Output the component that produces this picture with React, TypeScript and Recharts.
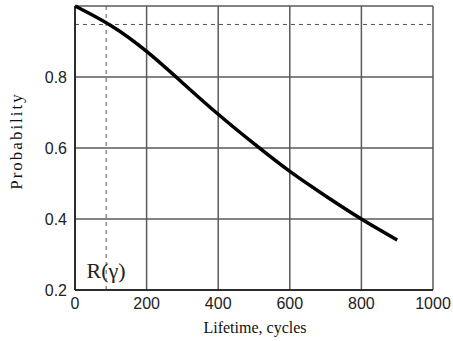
import {
  LineChart,
  Line,
  XAxis,
  YAxis,
  CartesianGrid,
  ReferenceLine,
} from "recharts";

const lifetime = [0, 100, 200, 300, 400, 500, 600, 700, 800, 900];
const probability = [1.0, 0.945, 0.872, 0.784, 0.695, 0.612, 0.534, 0.465, 0.4, 0.341];
const xTicks = [0, 200, 400, 600, 800, 1000];
const yTicks = [0.2, 0.4, 0.6, 0.8, 1.0];
const gammaX = 87;
const gammaR = 0.948;

const data = lifetime.map((t, i) => ({ t, p: probability[i] }));

const tickStyle = {
  fill: "#222",
  fontSize: 16,
  fontFamily: "'Liberation Sans Narrow', 'Liberation Sans', Arial, sans-serif",
};

const serif = "'Liberation Serif', 'Times New Roman', serif";

export default function App() {
  return (
    <div style={{ position: "absolute", left: 0, top: 0, background: "#fff" }}>
      <LineChart
        width={453}
        height={341}
        data={data}
        margin={{ top: 6, right: 20, left: 0, bottom: 0 }}
      >
        <CartesianGrid stroke="#5a5a5a" strokeWidth={1.5} />
        <XAxis
          dataKey="t"
          type="number"
          domain={[0, 1000]}
          ticks={xTicks}
          tick={tickStyle}
          tickLine={false}
          axisLine={{ stroke: "#111", strokeWidth: 1.5 }}
          height={51}
          label={{
            content: () => (
              <text x={255} y={333} textAnchor="middle" fontFamily={serif} fontSize={16} fill="#111">
                Lifetime, cycles
              </text>
            ),
          }}
        />
        <YAxis
          type="number"
          domain={[0.2, 1.0]}
          ticks={yTicks}
          tick={tickStyle}
          tickFormatter={(v: number) => (v >= 1 ? "" : String(v))}
          tickLine={false}
          axisLine={{ stroke: "#111", strokeWidth: 1.5 }}
          width={75}
          label={{
            content: () => (
              <text
                x={22}
                y={141}
                transform="rotate(-90 22 141)"
                textAnchor="middle"
                fontFamily={serif}
                fontSize={17}
                letterSpacing={2}
                fill="#111"
              >
                Probability
              </text>
            ),
          }}
        />
        <ReferenceLine y={gammaR} stroke="#555" strokeDasharray="4 4" strokeWidth={1} />
        <ReferenceLine
          x={gammaX}
          stroke="#555"
          strokeDasharray="4 4"
          strokeWidth={1}
          label={{
            value: "R(\u03b3)",
            position: "insideBottom",
            offset: 12,
            fontFamily: serif,
            fontSize: 22,
            fill: "#222",
          }}
        />
        <Line
          dataKey="p"
          type="natural"
          stroke="#000"
          strokeWidth={3.5}
          dot={false}
          isAnimationActive={false}
        />
      </LineChart>
    </div>
  );
}
